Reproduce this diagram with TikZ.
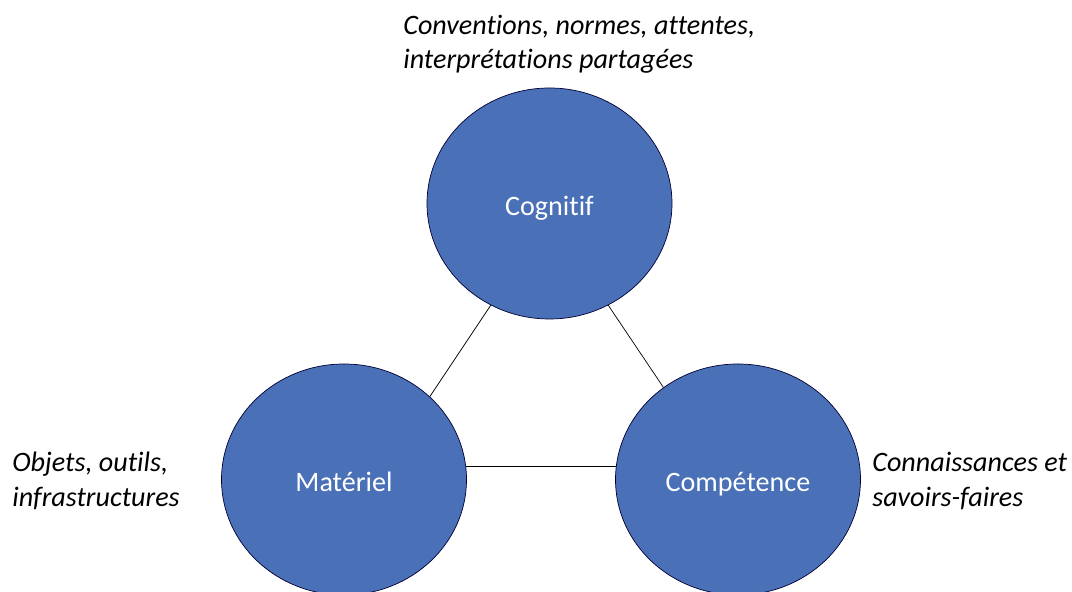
\documentclass[tikz,border=0pt]{standalone}
\usepackage{fontspec}
\setmainfont{Carlito}[RawFeature={-liga;-calt;-dlig;-clig}]
\usetikzlibrary{shapes.geometric}

\tikzset{
  pole/.style={ellipse,draw=black!80!blue,thin,fill=poleblue,text=white,
    minimum width=4.9cm,minimum height=4.62cm,inner sep=0pt,
    text height=14pt,text depth=0pt,
    font=\fontsize{16}{19.5}\selectfont},
  note/.style={align=left,anchor=west,inner sep=0pt,
    font=\fontsize{16}{19.5}\selectfont\itshape}
}
\definecolor{poleblue}{RGB}{74,112,183}

\begin{document}
\begin{tikzpicture}
 \useasboundingbox (0,0) rectangle (21.44,11.84);
 \node[pole] (cog) at (10.99,7.77) {Cognitif};
 \node[pole] (mat) at (6.88,2.25) {Matériel};
 \node[pole] (comp) at (14.76,2.25) {Compétence};
 \draw (cog.240) -- (mat.44);
 \draw (cog.300) -- (comp.129);
 \draw (mat.6) -- (comp.174);
 \node[note] (cogtxt) at (8.06,10.96) {Conventions, normes, attentes,\\interprétations partagées};
 \node[note] (mattxt) at (0.24,2.22) {Objets, outils,\\infrastructures};
 \node[note] (comptxt) at (17.44,2.22) {Connaissances et\\savoirs-faires};
\end{tikzpicture}
\end{document}
